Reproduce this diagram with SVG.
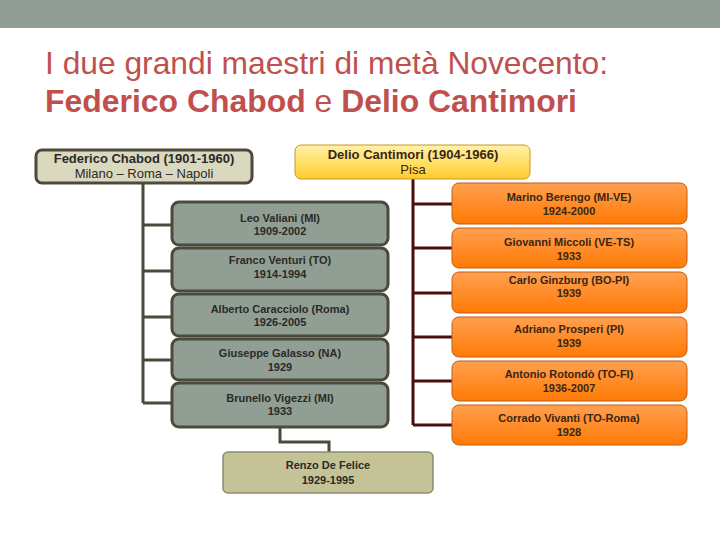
<svg xmlns="http://www.w3.org/2000/svg" width="720" height="540" viewBox="0 0 720 540">
<defs>
<linearGradient id="gy" x1="0" y1="0" x2="0" y2="1"><stop offset="0" stop-color="#FFF2A8"/><stop offset="1" stop-color="#FFCC2E"/></linearGradient>
<linearGradient id="go" x1="0" y1="0" x2="0" y2="1"><stop offset="0" stop-color="#FFA050"/><stop offset="1" stop-color="#FF7A05"/></linearGradient>
<style>
.t{font-family:"Liberation Sans",Arial,sans-serif;text-anchor:middle;font-size:11px;font-weight:bold;fill:#2A2A26}
.to{font-family:"Liberation Sans",Arial,sans-serif;text-anchor:middle;font-size:11px;font-weight:bold;fill:#3A2614}
.h{font-size:13px}
.n{font-weight:normal}
.g{fill:#919E94;stroke:#4B4A3C;stroke-width:3}
.o{fill:url(#go);stroke:#C45A10;stroke-width:1}
.cl{fill:none;stroke:#4B4A3C;stroke-width:3}
.cr{fill:none;stroke:#4A0E0E;stroke-width:3}
</style>
</defs>
<rect x="0" y="0" width="720" height="540" fill="#FFFFFF"/>
<rect x="0" y="0" width="720" height="28" fill="#919E95"/>
<g id="title" font-family="Liberation Sans,Arial,sans-serif" fill="#C0504D">
<text x="45" y="74" font-size="32" textLength="563" lengthAdjust="spacingAndGlyphs">I due grandi maestri di metà Novecento:</text>
<text x="45" y="112" font-size="32" textLength="532" lengthAdjust="spacingAndGlyphs"><tspan font-weight="bold">Federico Chabod</tspan> e <tspan font-weight="bold">Delio Cantimori</tspan></text>
</g>
<g id="connectors">
<path class="cl" d="M143,184 V403 M143,225 H172 M143,271 H172 M143,317 H172 M143,360 H172 M143,403 H172"/>
<path class="cl" d="M280,427 V442 H329 V452"/>
<path class="cr" d="M413,179 V425 M413,204 H452 M413,248 H452 M413,293 H452 M413,337 H452 M413,381 H452 M413,425 H452"/>
</g>
<g id="chabod">
<rect x="36" y="150" width="216" height="33" rx="6" fill="#DAD9C0" stroke="#4D4A3D" stroke-width="3"/>
<text class="t h" x="144" y="163">Federico Chabod (1901-1960)</text>
<text class="t h n" x="144" y="178">Milano – Roma – Napoli</text>
</g>
<g id="cantimori">
<rect x="295" y="145" width="235" height="34" rx="6" fill="url(#gy)" stroke="#C8962A" stroke-width="1"/>
<text class="to h" x="413" y="159">Delio Cantimori (1904-1966)</text>
<text class="to h n" x="413" y="174">Pisa</text>
</g>
<g id="valiani"><rect class="g" x="172" y="202" width="216" height="43" rx="7"/><text class="t" x="280" y="222">Leo Valiani (MI)</text><text class="t" x="280" y="235">1909-2002</text></g>
<g id="venturi"><rect class="g" x="172" y="248" width="216" height="43" rx="7"/><text class="t" x="280" y="264">Franco Venturi (TO)</text><text class="t" x="280" y="278">1914-1994</text></g>
<g id="caracciolo"><rect class="g" x="172" y="294" width="216" height="42" rx="7"/><text class="t" x="280" y="313">Alberto Caracciolo (Roma)</text><text class="t" x="280" y="326">1926-2005</text></g>
<g id="galasso"><rect class="g" x="172" y="339" width="216" height="41" rx="7"/><text class="t" x="280" y="357">Giuseppe Galasso (NA)</text><text class="t" x="280" y="371">1929</text></g>
<g id="vigezzi"><rect class="g" x="172" y="383" width="216" height="44" rx="7"/><text class="t" x="280" y="402">Brunello Vigezzi (MI)</text><text class="t" x="280" y="415">1933</text></g>
<g id="defelice"><rect x="223" y="452" width="210" height="41" rx="5" fill="#C4C398" stroke="#8E8C70" stroke-width="1.5"/><text class="t" x="328" y="469">Renzo De Felice</text><text class="t" x="328" y="484">1929-1995</text></g>
<g id="berengo"><rect class="o" x="452" y="183" width="235" height="41" rx="7"/><text class="to" x="569" y="201">Marino Berengo (MI-VE)</text><text class="to" x="569" y="215">1924-2000</text></g>
<g id="miccoli"><rect class="o" x="452" y="228" width="235" height="40" rx="7"/><text class="to" x="569" y="246">Giovanni Miccoli (VE-TS)</text><text class="to" x="569" y="260">1933</text></g>
<g id="ginzburg"><rect class="o" x="452" y="272" width="235" height="41" rx="7"/><text class="to" x="569" y="284">Carlo Ginzburg (BO-PI)</text><text class="to" x="569" y="297">1939</text></g>
<g id="prosperi"><rect class="o" x="452" y="317" width="235" height="40" rx="7"/><text class="to" x="569" y="333">Adriano Prosperi (PI)</text><text class="to" x="569" y="347">1939</text></g>
<g id="rotondo"><rect class="o" x="452" y="361" width="235" height="40" rx="7"/><text class="to" x="569" y="378">Antonio Rotondò (TO-FI)</text><text class="to" x="569" y="392">1936-2007</text></g>
<g id="vivanti"><rect class="o" x="452" y="405" width="235" height="40" rx="7"/><text class="to" x="569" y="422">Corrado Vivanti (TO-Roma)</text><text class="to" x="569" y="436">1928</text></g>
</svg>
